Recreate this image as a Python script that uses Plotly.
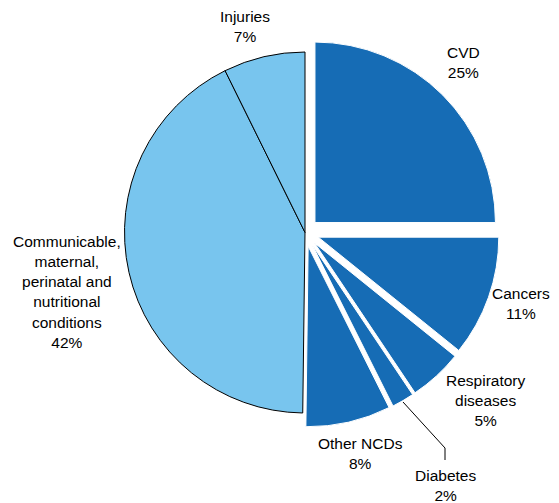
import plotly.graph_objects as go

W, H = 559, 503
OFF = 8  # page body margin of the browser

labels = ["CVD", "Cancers", "Respiratory<br>diseases", "Diabetes", "Other NCDs",
          "Communicable,<br>maternal,<br>perinatal and<br>nutritional<br>conditions", "Injuries"]
# slice sizes estimated from the drawn angles
values = [25.0, 10.8, 4.8, 2.0, 7.6, 42.5, 7.3]
# percentages as printed on the chart
shown_pct = [25, 11, 5, 2, 8, 42, 7]
groups = ["ncd", "ncd", "ncd", "ncd", "ncd", "other", "other"]

# label centres in window pixels (layout only)
label_pos = [(463, 62), (521, 303), (485, 400), (445, 485), (360, 453), (67, 292), (245, 26)]

DARK = "#166cb5"
LIGHT = "#78c5ee"
colors = [DARK if g == "ncd" else LIGHT for g in groups]
PULL = 0.078
pulls = [PULL if g == "ncd" else 0 for g in groups]
line_colors = ["white" if g == "ncd" else "black" for g in groups]
line_widths = [1 if g == "ncd" else 1 for g in groups]


def px2paper(x, y):
    return (x - OFF) / W, 1 - (y - OFF) / H


cx, cy, r = 305, 232.5, 180.5
half = r * (1 + PULL)
x0, y1 = px2paper(cx - half, cy - half)
x1, y0 = px2paper(cx + half, cy + half)

fig = go.Figure(go.Pie(
    labels=labels,
    values=values,
    sort=False,
    direction="clockwise",
    rotation=0,
    pull=pulls,
    marker=dict(colors=colors, line=dict(color=line_colors, width=line_widths)),
    textinfo="none",
    showlegend=False,
    hoverinfo="label",
    domain=dict(x=[x0, x1], y=[y0, y1]),
))

FONT = dict(family="Liberation Sans, Arial, sans-serif", size=15.5, color="black")
for lab, pct, (px, py) in zip(labels, shown_pct, label_pos):
    ax, ay = px2paper(px, py)
    fig.add_annotation(
        x=ax, y=ay, xref="paper", yref="paper",
        text=f"{lab}<br>{pct}%", showarrow=False,
        xanchor="center", yanchor="middle", align="center", font=FONT,
    )

pts = [(403, 402), (445, 448), (445, 460)]
path = "M " + " L ".join("{},{}".format(*px2paper(x, y)) for x, y in pts)
fig.add_shape(type="path", path=path, xref="paper", yref="paper",
              line=dict(color="black", width=1))

fig.update_layout(
    width=W, height=H,
    margin=dict(l=0, r=0, t=0, b=0),
    paper_bgcolor="white",
    plot_bgcolor="white",
    showlegend=False,
)

fig.write_html("out.html")
